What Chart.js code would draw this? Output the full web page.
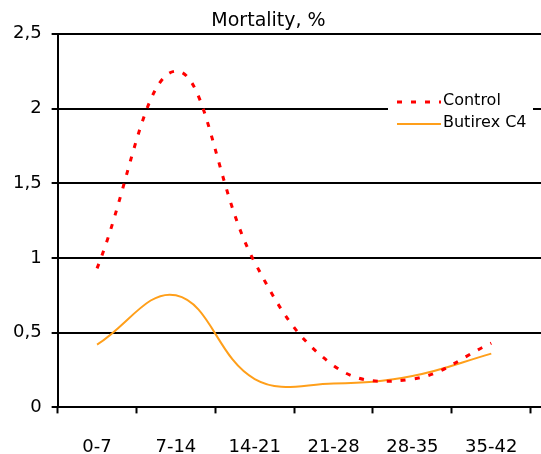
<!DOCTYPE html>
<html>
<head>
<meta charset="utf-8">
<script src="https://cdn.jsdelivr.net/npm/chart.js@4/dist/chart.umd.min.js"></script>
<style>
  html, body { margin: 0; padding: 0; background: #fff; }
  #wrap { width: 541px; height: 454px; }
</style>
</head>
<body>
<div id="wrap"><canvas id="mortalityChart"></canvas></div>
<script>
const periods = ['0-7', '7-14', '14-21', '21-28', '28-35', '35-42'];
const controlValues = [0.93, 2.25, 0.97, 0.28, 0.19, 0.43];
const butirexValues = [0.42, 0.75, 0.19, 0.16, 0.21, 0.36];
const yTickLabels = ['0', '0,5', '1', '1,5', '2', '2,5'];

const FONT = 'DejaVu Sans';

// gridlines run out to the right edge, legend sits on top with a white box
const extrasPlugin = {
    id: 'extras',
    beforeDatasetsDraw(chart) {
        const { ctx, chartArea, scales } = chart;
        ctx.save();
        ctx.strokeStyle = '#000';
        ctx.lineWidth = 2;
        scales.y.ticks.forEach(t => {
            const y = Math.round(scales.y.getPixelForValue(t.value));
            ctx.beginPath();
            ctx.moveTo(chartArea.right - 2, y);
            ctx.lineTo(chart.width, y);
            ctx.stroke();
        });
        ctx.restore();
    },
    afterDatasetsDraw(chart) {
        const { ctx } = chart;
        ctx.save();
        ctx.fillStyle = '#fff';
        ctx.fillRect(388, 90, 145, 43);
        chart.data.datasets.forEach((ds, i) => {
            const y = 102 + i * 22;
            ctx.beginPath();
            ctx.strokeStyle = ds.borderColor;
            ctx.lineWidth = ds.borderWidth;
            ctx.setLineDash(ds.borderDash || []);
            ctx.moveTo(397, y);
            ctx.lineTo(441, y);
            ctx.stroke();
            ctx.setLineDash([]);
            ctx.fillStyle = '#000';
            ctx.font = `16px "${FONT}"`;
            ctx.textBaseline = 'middle';
            ctx.fillText(ds.label, 443, y - 1);
        });
        ctx.restore();
    }
};

new Chart(document.getElementById('mortalityChart'), {
    type: 'line',
    data: {
        labels: periods,
        datasets: [
            {
                label: 'Control',
                data: controlValues,
                borderColor: '#ff0000',
                borderWidth: 3,
                borderDash: [5, 9],
                borderCapStyle: 'butt',
                pointRadius: 0,
                tension: 0.4,
                fill: false
            },
            {
                label: 'Butirex C4',
                data: butirexValues,
                borderColor: '#ff9f1a',
                borderWidth: 2,
                pointRadius: 0,
                tension: 0.4,
                fill: false
            }
        ]
    },
    options: {
        responsive: true,
        maintainAspectRatio: false,
        animation: false,
        layout: { padding: { left: 3, right: 7, top: 0, bottom: -27 } },
        plugins: {
            legend: { display: false },
            tooltip: { enabled: false },
            title: {
                display: true,
                text: 'Mortality, %',
                color: '#000',
                font: { family: FONT, size: 19, weight: 'normal' },
                padding: { top: 10, bottom: 1 }
            }
        },
        scales: {
            x: {
                offset: true,
                grid: {
                    offset: true,
                    drawOnChartArea: false,
                    tickLength: 6,
                    tickWidth: 2,
                    tickColor: '#000'
                },
                border: { color: '#000', width: 2 },
                ticks: {
                    color: '#000',
                    padding: 23,
                    maxRotation: 0,
                    font: { family: FONT, size: 18 }
                }
            },
            y: {
                min: 0,
                max: 2.5,
                grid: {
                    color: '#000',
                    lineWidth: 2,
                    tickLength: 6,
                    tickColor: '#000'
                },
                border: { color: '#000', width: 2 },
                ticks: {
                    stepSize: 0.5,
                    color: '#000',
                    padding: 10,
                    font: { family: FONT, size: 18 },
                    callback: (v, i) => yTickLabels[i]
                }
            }
        }
    },
    plugins: [extrasPlugin]
});
</script>
</body>
</html>
